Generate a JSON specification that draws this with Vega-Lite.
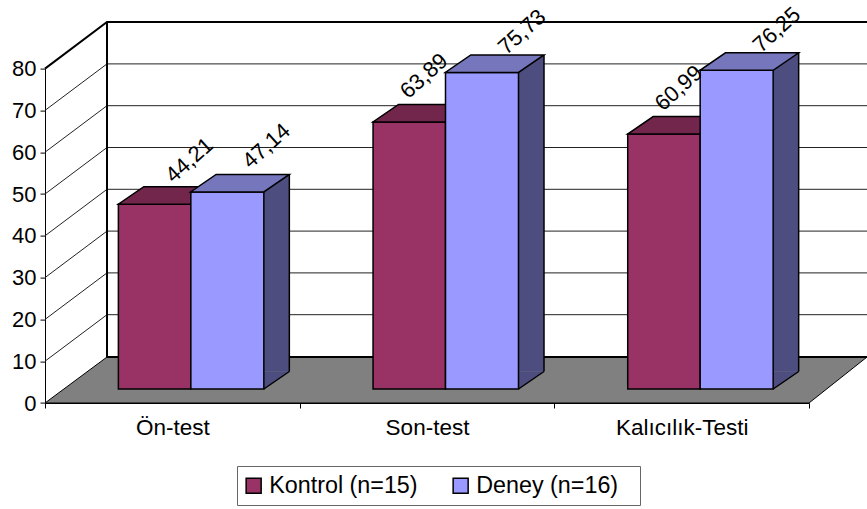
{
"$schema":"https://vega.github.io/schema/vega-lite/v6.json",
"width":764,"height":334.4,
"autosize":{"type":"none"},
"padding":{"left":45,"top":68.6,"right":58,"bottom":106},
"background":"white",
"config":{"view":{"stroke":null},"font":"Liberation Sans",
"locale":{"number":{"decimal":",","thousands":".","grouping":[3],"currency":["","TL"]}},
"axisX":{"tickBand":"extent","labelAngle":0,"labelFontSize":22.5,"labelColor":"#000","labelFont":"Liberation Sans","labelPadding":8,"tickSize":5,"tickColor":"#000","domainColor":"#000","grid":false},
"axisY":{"tickCount":9,"labelFontSize":22,"labelColor":"#000","labelFont":"Liberation Sans","labelPadding":4,"tickSize":5,"tickColor":"#000","domainColor":"#000","grid":false}},
"datasets":{
"bars":[
{"test":"Ön-test","grup":"Kontrol (n=15)","deger":44.21},
{"test":"Ön-test","grup":"Deney (n=16)","deger":47.14},
{"test":"Son-test","grup":"Kontrol (n=15)","deger":63.89},
{"test":"Son-test","grup":"Deney (n=16)","deger":75.73},
{"test":"Kalıcılık-Testi","grup":"Kontrol (n=15)","deger":60.99},
{"test":"Kalıcılık-Testi","grup":"Deney (n=16)","deger":76.25}],
"ticks":[{"t":10},{"t":20},{"t":30},{"t":40},{"t":50},{"t":60},{"t":70}],
"base":[{"t":0}]
},
"data":{"name":"bars"},
"encoding":{
"x":{"field":"test","type":"nominal","title":null,"sort":null,
"scale":{"type":"band","domain":["Ön-test","Son-test","Kalıcılık-Testi"],"paddingInner":0,"paddingOuter":0}},
"y":{"field":"deger","type":"quantitative","title":null,
"scale":{"domain":[0,80],"nice":false}}
},
"layer":[
{"data":{"name":"ticks"},
 "mark":{"type":"point","shape":"M-127.33,0L-65.33,-46.5L694.67,-46.5","size":4,"filled":false,"stroke":"#222","strokeWidth":1,"opacity":1},
 "encoding":{"x":{"datum":"Ön-test","title":null},"y":{"field":"t","type":"quantitative","title":null}}},
{"data":{"name":"base"},
 "mark":{"type":"point","shape":"M-127.33,0L-65.33,-46L694.67,-46L636.67,0Z","size":4,"filled":true,"fill":"#808080","stroke":"#000","strokeWidth":1,"opacity":1},
 "encoding":{"x":{"datum":"Ön-test","title":null},"y":{"field":"t","type":"quantitative","title":null}}},
{"data":{"name":"base"},
 "mark":{"type":"point","shape":"M-127.33,-334.4L-65.33,-381L694.67,-381M-65.33,-381L-65.33,-46L694.67,-46","size":4,"filled":false,"stroke":"#000","strokeWidth":2,"opacity":1},
 "encoding":{"x":{"datum":"Ön-test","title":null},"y":{"field":"t","type":"quantitative","title":null}}},
{"transform":[{"filter":"datum.grup==='Kontrol (n=15)'"}],
 "layer":[
 {"mark":{"type":"bar","size":72.5,"xOffset":-17.7,"yOffset":-14,"y2Offset":-14,"stroke":"#000","strokeWidth":1.5},
  "encoding":{"y2":{"datum":0},"color":{"field":"grup","type":"nominal",
   "scale":{"domain":["Kontrol (n=15)","Deney (n=16)"],"range":["#993366","#9999FF"]},
   "legend":{"title":" ","titleOrient":"right","titlePadding":14,"titleFontSize":1,"orient":"none","legendX":192,"legendY":397.4,"direction":"horizontal","columns":2,"symbolType":"square","symbolSize":225,"symbolOffset":-3,"symbolStrokeColor":"#000","symbolStrokeWidth":1.5,"labelFontSize":23.3,"labelColor":"#000","labelFont":"Liberation Sans","strokeColor":"#666","padding":8,"columnPadding":32,"labelLimit":300,"fillColor":"#fff"}}}},
 {"mark":{"type":"point","shape":"M-54,-14L18.3,-14L43.8,-31.5L-28.5,-31.5Z","size":4,"filled":true,"fill":"#72264C","stroke":"#000","strokeWidth":1.5,"opacity":1}}
 ]},
{"transform":[{"filter":"datum.grup==='Deney (n=16)'"}],
 "layer":[
 {"mark":{"type":"bar","size":25.5,"xOffset":104.2,"yOffset":-31.5,"y2Offset":-31.5,"fill":"#4D4D80"},
  "encoding":{"y2":{"datum":0}}},
 {"mark":{"type":"point","shape":"M91.5,-14L91.5,-31.5L117,-31.5Z","size":4,"filled":true,"fill":"#4D4D80","opacity":1},
  "encoding":{"y":{"datum":0,"title":null}}},
 {"mark":{"type":"point","shape":"M91.5,-14L117,-31.5","size":4,"filled":false,"stroke":"#000","strokeWidth":1.5,"opacity":1},
  "encoding":{"y":{"datum":0,"title":null}}},
 {"mark":{"type":"rule","xOffset":117,"yOffset":-31.5,"y2Offset":-31.5,"stroke":"#000","strokeWidth":1.5},
  "encoding":{"y2":{"datum":0}}},
 {"mark":{"type":"bar","size":73,"xOffset":55,"yOffset":-14,"y2Offset":-14,"stroke":"#000","strokeWidth":1.5},
  "encoding":{"y2":{"datum":0},"color":{"field":"grup","type":"nominal"}}},
 {"mark":{"type":"point","shape":"M18.3,-14L91.5,-14L117,-31.5L43.8,-31.5Z","size":4,"filled":true,"fill":"#7676BC","stroke":"#000","strokeWidth":1.5,"opacity":1}}
 ]},
{"transform":[{"filter":"datum.grup==='Kontrol (n=15)' && datum.test==='Ön-test'"}],
 "mark":{"type":"text","angle":-42,"fontSize":22,"font":"Liberation Sans","fill":"#000","xOffset":17,"yOffset":-58,"align":"center","baseline":"middle"},
 "encoding":{"text":{"field":"deger","type":"quantitative","format":".2f"}}},
{"transform":[{"filter":"datum.grup==='Kontrol (n=15)' && datum.test!=='Ön-test'"}],
 "mark":{"type":"text","angle":-42,"fontSize":22,"font":"Liberation Sans","fill":"#000","xOffset":-3,"yOffset":-60,"align":"center","baseline":"middle"},
 "encoding":{"text":{"field":"deger","type":"quantitative","format":".2f"}}},
{"transform":[{"filter":"datum.grup==='Deney (n=16)' && datum.test==='Ön-test'"}],
 "mark":{"type":"text","angle":-42,"fontSize":22,"font":"Liberation Sans","fill":"#000","xOffset":94,"yOffset":-60,"align":"center","baseline":"middle"},
 "encoding":{"text":{"field":"deger","type":"quantitative","format":".2f"}}},
{"transform":[{"filter":"datum.grup==='Deney (n=16)' && datum.test!=='Ön-test'"}],
 "mark":{"type":"text","angle":-42,"fontSize":22,"font":"Liberation Sans","fill":"#000","xOffset":95,"yOffset":-54.5,"align":"center","baseline":"middle"},
 "encoding":{"text":{"field":"deger","type":"quantitative","format":".2f"}}}
]
}
